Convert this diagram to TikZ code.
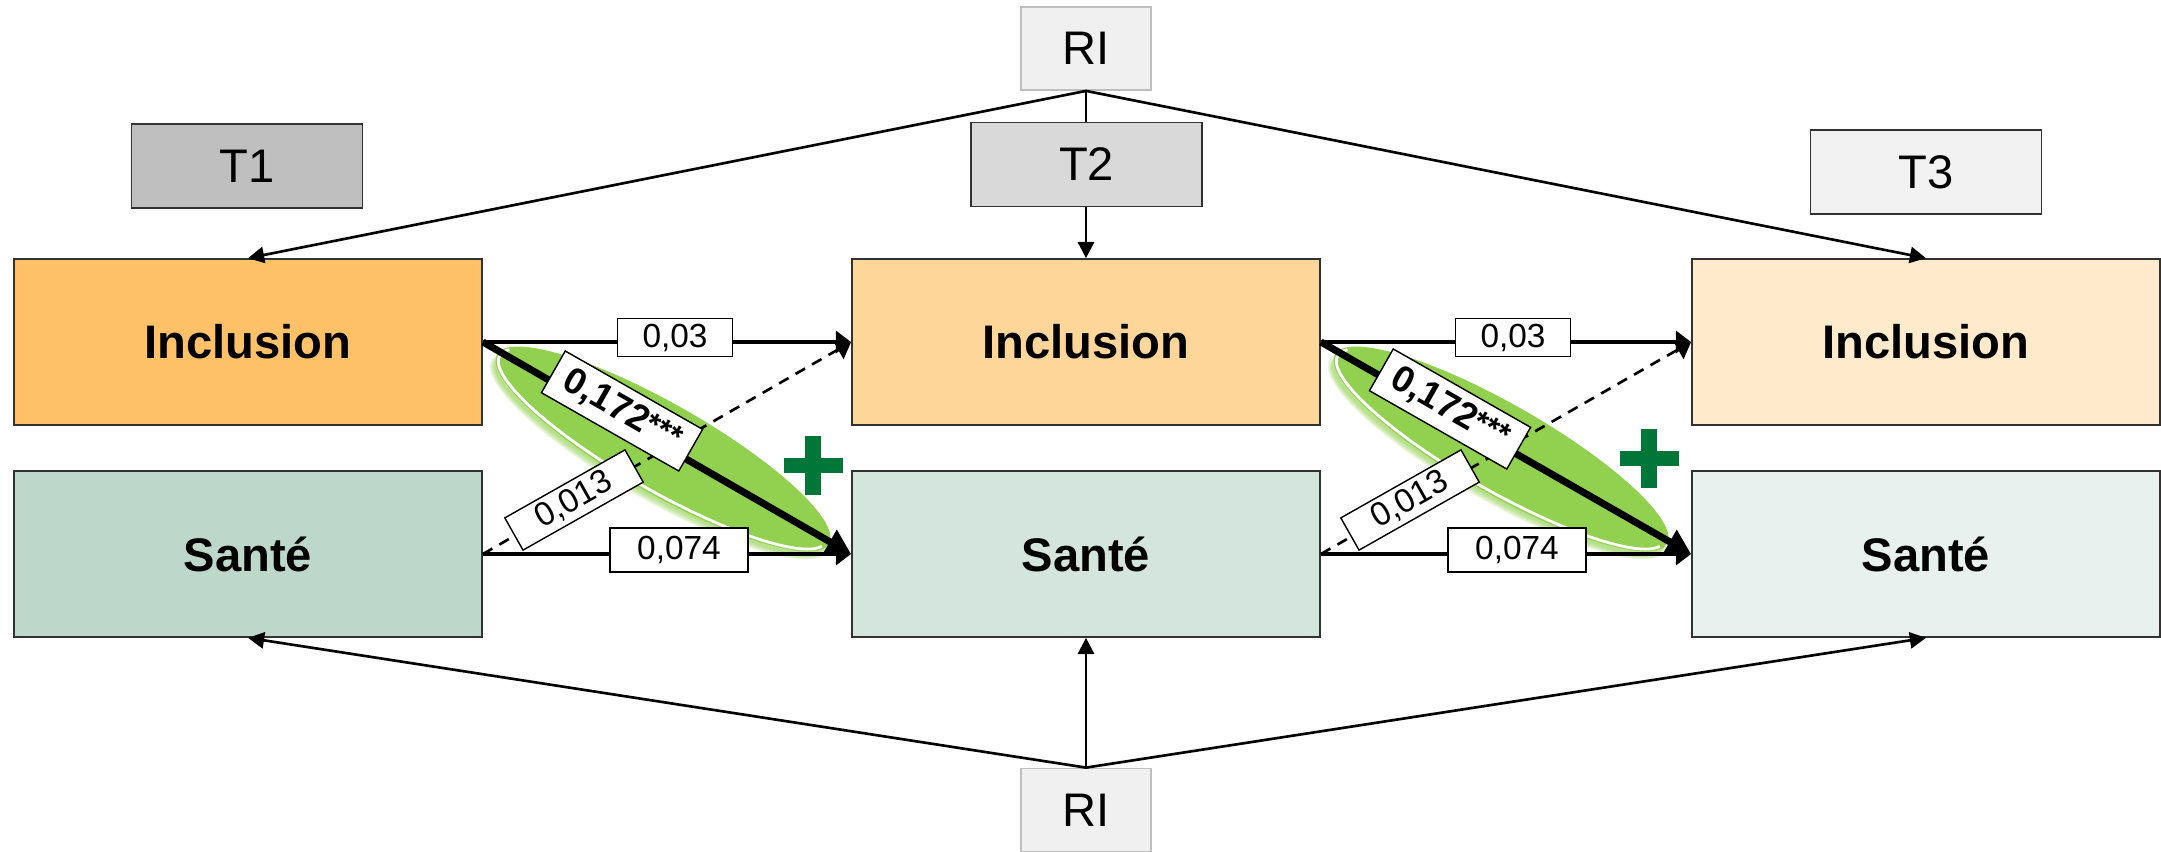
\documentclass[tikz,border=0pt]{standalone}
\usepackage{fontspec}
\setmainfont{Liberation Sans}
\usetikzlibrary{arrows.meta}
\definecolor{incA}{RGB}{254,193,103}
\definecolor{incB}{RGB}{254,214,153}
\definecolor{incC}{RGB}{255,234,204}
\definecolor{sanA}{RGB}{189,216,203}
\definecolor{sanB}{RGB}{211,229,221}
\definecolor{sanC}{RGB}{232,241,237}
\definecolor{tA}{RGB}{191,191,191}
\definecolor{tB}{RGB}{217,217,217}
\definecolor{tC}{RGB}{242,242,242}
\definecolor{rifill}{RGB}{240,240,240}
\definecolor{riline}{RGB}{191,191,191}
\definecolor{boxline}{RGB}{50,50,50}
\definecolor{leaf}{RGB}{146,208,80}
\definecolor{plusgreen}{RGB}{0,118,56}
\begin{document}
\begin{tikzpicture}[x=0.01cm,y=-0.01cm,
  varbox/.style={draw=boxline, line width=0.45pt, minimum width=46.8mm, minimum height=16.6mm, inner sep=0pt, font=\fontsize{13.4}{16}\selectfont\bfseries},
  tbox/.style={draw=boxline, line width=0.45pt, minimum width=23.1mm, minimum height=8.4mm, inner sep=0pt, font=\fontsize{13.4}{16}\selectfont},
  ribox/.style={draw=riline, fill=rifill, line width=0.5pt, minimum width=13mm, minimum height=8.3mm, inner sep=0pt, font=\fontsize{13.4}{16}\selectfont},
  coef/.style={draw=black, fill=white, line width=0.4pt, inner sep=0pt, font=\fontsize{9.5}{11}\selectfont},
  bigcoef/.style={draw=black, fill=white, line width=0.4pt, inner sep=0pt, minimum width=15.8mm, minimum height=4.8mm, font=\fontsize{10.5}{12}\selectfont\bfseries},
  riarrow/.style={line width=0.75pt, -{Triangle[length=4.6pt,width=4.6pt]}},
  hpath/.style={line width=1.1pt, -{Triangle[length=4.3pt,width=6.2pt]}},
  dpath/.style={line width=0.75pt, dash pattern=on 3.1pt off 2.3pt, -{Triangle[length=4.3pt,width=6.2pt]}},
  kpath/.style={line width=2pt, -{Triangle[length=7pt,width=7.5pt]}}
]
\useasboundingbox (0,0) rectangle (2161,851);
\clip (0,0) rectangle (2161,851);

% main boxes
\node[ribox] (RItop) at (1086,48.5) {RI};
\node[varbox, fill=incA] (Inc1) at (248,342) {Inclusion};
\node[varbox, fill=incB] (Inc2) at (1086,342) {Inclusion};
\node[varbox, fill=incC] (Inc3) at (1926,342) {Inclusion};
\node[varbox, fill=sanA] (San1) at (248,554) {Santé};
\node[varbox, fill=sanB] (San2) at (1086,554) {Santé};
\node[varbox, fill=sanC] (San3) at (1926,554) {Santé};
\node[ribox] (RIbot) at (1086,810) {RI};

% green leaves
\foreach \cx in {663,1501}{
  \begin{scope}[shift={(\cx,449)}, rotate=-29.7]
    \foreach \i in {1,...,6}
      \fill[leaf, opacity=0.16] (0cm,-0.08cm) ellipse [x radius={1.86cm+\i*0.012cm}, y radius={0.38cm+\i*0.012cm}];
    \fill[leaf] (0cm,0cm) ellipse [x radius=1.91cm, y radius=0.45cm];
    \draw[white, line width=0.8pt] (166:1.88cm and 0.42cm) arc[start angle=166, end angle=352, x radius=1.88cm, y radius=0.42cm];
  \end{scope}
}

% random intercepts
\draw[riarrow] (RItop.south) -- (Inc1.north);
\draw[riarrow] (RItop.south) -- (Inc2.north);
\draw[riarrow] (RItop.south) -- (Inc3.north);
\draw[riarrow] (RIbot.north) -- (San1.south);
\draw[riarrow] (RIbot.north) -- (San2.south);
\draw[riarrow] (RIbot.north) -- (San3.south);

% time labels
\node[tbox, fill=tA] (T1) at (247,166) {T1};
\node[tbox, fill=tB] (T2) at (1086.5,164.5) {T2};
\node[tbox, fill=tC] (T3) at (1926,172) {T3};

% cross-lagged paths T1 -> T2
\draw[dpath] (San1.east) -- (Inc2.west);
\draw[hpath] (Inc1.east) -- (Inc2.west);
\draw[hpath] (San1.east) -- (San2.west);
\draw[kpath] (Inc1.east) -- (San2.west);
% cross-lagged paths T2 -> T3
\draw[dpath] (San2.east) -- (Inc3.west);
\draw[hpath] (Inc2.east) -- (Inc3.west);
\draw[hpath] (San2.east) -- (San3.west);
\draw[kpath] (Inc2.east) -- (San3.west);

% coefficients
\node[coef, minimum width=11.5mm, minimum height=3.8mm] (a1) at (675,337.5) {0,03};
\node[coef, minimum width=13.8mm, minimum height=4.4mm] (b1) at (679,550) {0,074};
\node[coef, minimum width=13.8mm, minimum height=3.7mm, rotate=29.5] (c1) at (574,500) {0,013};
\node[bigcoef, rotate=-29.7] (d1) at (622,411) {0,172\raisebox{0.1em}{\fontsize{9}{10}\selectfont ***}};

\node[coef, minimum width=11.5mm, minimum height=3.8mm] (a2) at (1513,337.5) {0,03};
\node[coef, minimum width=13.8mm, minimum height=4.4mm] (b2) at (1517,550) {0,074};
\node[coef, minimum width=13.8mm, minimum height=3.7mm, rotate=29.5] (c2) at (1410,500) {0,013};
\node[bigcoef, rotate=-29.7] (d2) at (1450,409) {0,172\raisebox{0.1em}{\fontsize{9}{10}\selectfont ***}};

% plus signs
\foreach \cx/\cy in {813/465, 1649/458}{
  \fill[plusgreen] ({\cx-8},{\cy-29.5}) rectangle ({\cx+8},{\cy+29.5});
  \fill[plusgreen] ({\cx-29.5},{\cy-7.5}) rectangle ({\cx+29.5},{\cy+7.5});
}
\end{tikzpicture}
\end{document}
